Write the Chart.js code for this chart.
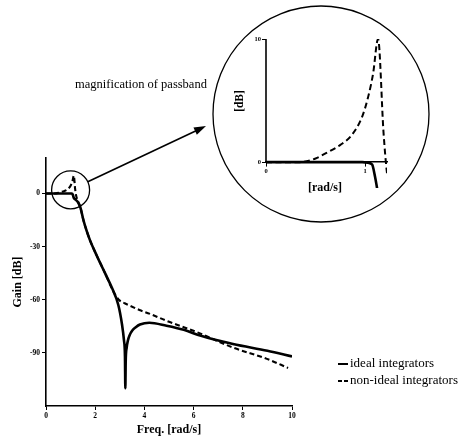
<!DOCTYPE html>
<html>
<head>
<meta charset="utf-8">
<script src="https://cdn.jsdelivr.net/npm/chart.js@4.4.1/dist/chart.umd.min.js"></script>
<style>
    html, body { margin: 0; padding: 0; background: #fff; }
    #wrap { position: relative; width: 466px; height: 439px; }
    #main { position: absolute; left: 0; top: 0; }
    #zoom { position: absolute; left: 212px; top: 2px; }
</style>
</head>
<body>
<div id="wrap">
    <canvas id="main" width="466" height="439"></canvas>
    <canvas id="zoom" width="220" height="224"></canvas>
</div>
<script>
// values
var idealFreq = [0, 0.5, 0.97, 1.03, 1.07, 1.1, 1.13, 1.2, 1.3, 1.4, 1.52, 1.65, 1.79, 2.06, 2.4, 2.67, 2.94, 3.09, 3.17, 3.21,
                 3.225, 3.24, 3.28, 3.33, 3.4, 3.5, 3.65, 3.82, 4.2, 4.9, 5.6, 6.3, 7.6, 9.0, 10];
var idealGain = [0, 0, 0, -0.05, -0.2, -1.2, -2.5, -3.5, -5, -8, -15, -21, -26.5, -35, -45, -53, -63, -74, -83, -92,
                 -110, -95, -87, -83, -80, -77.5, -75.5, -74, -73, -74.7, -77, -80.4, -85, -88.8, -92];
var nonIdealFreq = [0, 0.34, 0.5, 0.61, 0.75, 0.865, 0.97, 1.03, 1.08, 1.13, 1.185, 1.22, 1.3, 1.4, 1.52, 1.65, 1.79, 2.06,
                    2.4, 2.67, 2.85, 3.0, 3.2, 3.41, 3.8, 4.23, 4.9, 5.6, 6.26, 7.6, 8.98, 9.84];
var nonIdealGain = [0, 0, 0.3, 0.75, 1.4, 2.2, 3.7, 5.3, 7.2, 10, 2.4, -0.9, -4.5, -8, -15, -21, -26.5, -35,
                    -45, -53.5, -58, -60.5, -62, -63.4, -65.8, -68, -71.9, -75.5, -79, -87, -93.4, -98.5];
var seriesLabels = ["ideal integrators", "non-ideal integrators"];
var freqTicks = [0, 2, 4, 6, 8, 10];
var gainTicks = [-90, -60, -30, 0];
var zoomFreqTicks = [0, 1];
var zoomGainTicks = [0, 10];

var serif = "'Liberation Serif', 'Times New Roman', serif";

function points(xs, ys) {
    return xs.map(function (x, i) { return { x: x, y: ys[i] }; });
}

function setTicks(values) {
    return function (scale) {
        scale.ticks = values.map(function (v) { return { value: v }; });
    };
}

// circle, arrow, caption and key on the big plot
var mainDecor = {
    id: 'mainDecor',
    afterDraw: function (chart) {
        var ctx = chart.ctx, xs = chart.scales.x, ys = chart.scales.y;
        ctx.save();
        ctx.strokeStyle = '#000';
        ctx.fillStyle = '#000';

        var cx = xs.getPixelForValue(1.0), cy = ys.getPixelForValue(2), r = 19;
        ctx.lineWidth = 1.3;
        ctx.beginPath();
        ctx.arc(cx, cy, r, 0, Math.PI * 2);
        ctx.stroke();

        var tx = 206, ty = 126;
        var a = Math.atan2(ty - cy, tx - cx), c = Math.cos(a), s = Math.sin(a);
        ctx.lineWidth = 1.6;
        ctx.beginPath();
        ctx.moveTo(cx + r * c, cy + r * s);
        ctx.lineTo(tx - 8 * c, ty - 8 * s);
        ctx.stroke();
        ctx.beginPath();
        ctx.moveTo(tx, ty);
        ctx.lineTo(tx - 12 * c - 4 * s, ty - 12 * s + 4 * c);
        ctx.lineTo(tx - 12 * c + 4 * s, ty - 12 * s - 4 * c);
        ctx.closePath();
        ctx.fill();

        ctx.font = '12.5px ' + serif;
        ctx.textBaseline = 'alphabetic';
        ctx.fillText('magnification of passband', 75, 88);

        // key
        ctx.font = '13px ' + serif;
        ctx.textBaseline = 'middle';
        chart.data.datasets.forEach(function (ds, i) {
            var y = 364 + 17 * i;
            ctx.lineWidth = 2;
            ctx.setLineDash(ds.borderDash ? [4, 2] : []);
            ctx.beginPath();
            ctx.moveTo(338, y);
            ctx.lineTo(348, y);
            ctx.stroke();
            ctx.setLineDash([]);
            ctx.fillText(ds.label, 350, y);
        });
        ctx.restore();
    }
};

new Chart(document.getElementById('main'), {
    type: 'line',
    data: {
        datasets: [{
            label: seriesLabels[0],
            data: points(idealFreq, idealGain),
            borderColor: '#000',
            borderWidth: 2.6,
            pointRadius: 0,
            cubicInterpolationMode: 'monotone'
        }, {
            label: seriesLabels[1],
            data: points(nonIdealFreq, nonIdealGain),
            borderColor: '#000',
            borderWidth: 2.1,
            borderDash: [5, 3],
            pointRadius: 0,
            cubicInterpolationMode: 'monotone'
        }]
    },
    options: {
        responsive: false,
        animation: false,
        layout: { padding: { left: 0, top: 158, right: 174, bottom: 0 } },
        scales: {
            x: {
                type: 'linear',
                min: 0,
                max: 10,
                afterFit: function (scale) { scale.height = 33; },
                afterBuildTicks: setTicks(freqTicks),
                grid: { drawOnChartArea: false, tickLength: 4, color: '#000' },
                border: { color: '#000', width: 1.6 },
                ticks: { color: '#000', padding: 2, maxRotation: 0, font: { family: serif, size: 7.5, weight: 'bold' } },
                title: {
                    display: true,
                    text: 'Freq. [rad/s]',
                    color: '#000',
                    font: { family: serif, size: 12, weight: 'bold' },
                    padding: { top: 0, bottom: 2 }
                }
            },
            y: {
                min: -120,
                max: 20,
                afterFit: function (scale) { scale.width = 46; },
                afterBuildTicks: setTicks(gainTicks),
                grid: { drawOnChartArea: false, tickLength: 4, color: '#000' },
                border: { color: '#000', width: 1.6 },
                ticks: { color: '#000', padding: 2, font: { family: serif, size: 7.5, weight: 'bold' } },
                title: {
                    display: true,
                    text: 'Gain [dB]',
                    color: '#000',
                    font: { family: serif, size: 12, weight: 'bold' },
                    padding: { top: 11, bottom: 0 }
                }
            }
        },
        plugins: {
            legend: { display: false },
            tooltip: { enabled: false }
        }
    },
    plugins: [mainDecor]
});

// circle, vertical axis and axis names of the magnified view
var zoomDecor = {
    id: 'zoomDecor',
    afterDraw: function (chart) {
        var ctx = chart.ctx, xs = chart.scales.x, ys = chart.scales.y;
        ctx.save();
        ctx.strokeStyle = '#000';
        ctx.fillStyle = '#000';
        ctx.lineWidth = 1.3;
        ctx.beginPath();
        ctx.arc(109, 112, 108, 0, Math.PI * 2);
        ctx.stroke();

        var x0 = xs.getPixelForValue(0);
        ctx.lineWidth = 1.6;
        ctx.beginPath();
        ctx.moveTo(x0, ys.getPixelForValue(0));
        ctx.lineTo(x0, ys.getPixelForValue(10));
        ctx.stroke();

        ctx.textAlign = 'center';
        ctx.textBaseline = 'middle';
        ctx.font = 'bold 12px ' + serif;
        ctx.fillText('[rad/s]', 113, 186);
        ctx.font = 'bold 11.5px ' + serif;
        ctx.translate(28, 99);
        ctx.rotate(-Math.PI / 2);
        ctx.fillText('[dB]', 0, 0);
        ctx.restore();
    }
};

new Chart(document.getElementById('zoom'), {
    type: 'line',
    data: {
        datasets: [{
            label: seriesLabels[0],
            data: points(idealFreq, idealGain),
            borderColor: '#000',
            borderWidth: 2.6,
            pointRadius: 0,
            cubicInterpolationMode: 'monotone'
        }, {
            label: seriesLabels[1],
            data: points(nonIdealFreq, nonIdealGain),
            borderColor: '#000',
            borderWidth: 2,
            borderDash: [6, 3.5],
            pointRadius: 0,
            cubicInterpolationMode: 'monotone'
        }]
    },
    options: {
        responsive: false,
        animation: false,
        layout: { padding: { left: 40, top: 37, right: 45, bottom: 38 } },
        scales: {
            x: {
                type: 'linear',
                min: 0,
                max: 1.22,
                position: { y: 0 },
                afterBuildTicks: setTicks(zoomFreqTicks),
                grid: { drawOnChartArea: false, tickLength: 4, color: '#000' },
                border: { color: '#000', width: 1.6 },
                ticks: { color: '#000', padding: 1, maxRotation: 0, font: { family: serif, size: 6.5, weight: 'bold' } }
            },
            y: {
                min: -2.1,
                max: 10,
                afterFit: function (scale) { scale.width = 14; },
                afterBuildTicks: setTicks(zoomGainTicks),
                grid: { drawOnChartArea: false, tickLength: 4, color: '#000' },
                border: { display: false },
                ticks: { color: '#000', padding: 1, font: { family: serif, size: 6.5, weight: 'bold' } }
            }
        },
        plugins: {
            legend: { display: false },
            tooltip: { enabled: false }
        }
    },
    plugins: [zoomDecor]
});
</script>
</body>
</html>
